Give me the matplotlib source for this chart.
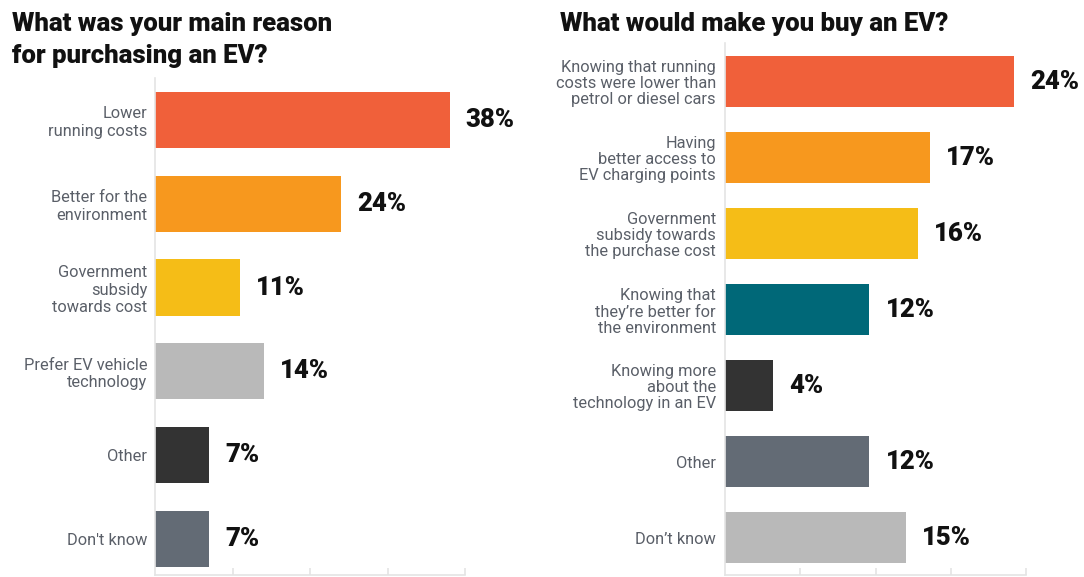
import matplotlib
matplotlib.use("Agg")
import matplotlib.pyplot as plt

# ---- Data ----
left_title = "What was your main reason\nfor purchasing an EV?"
left_cats = ["Lower\nrunning costs", "Better for the\nenvironment",
             "Government\nsubsidy\ntowards cost", "Prefer EV vehicle\ntechnology",
             "Other", "Don't know"]
left_vals = [38, 24, 11, 14, 7, 7]
left_colors = ["#F0603A", "#F7981E", "#F5BD17", "#B9B9B9", "#333333", "#636B75"]

right_title = "What would make you buy an EV?"
right_cats = ["Knowing that running\ncosts were lower than\npetrol or diesel cars",
              "Having\nbetter access to\nEV charging points",
              "Government\nsubsidy towards\nthe purchase cost",
              "Knowing that\nthey\u2019re better for\nthe environment",
              "Knowing more\nabout the\ntechnology in an EV",
              "Other", "Don\u2019t know"]
right_vals = [24, 17, 16, 12, 4, 12, 15]
right_colors = ["#F0603A", "#F7981E", "#F5BD17", "#006878", "#333333", "#636B75", "#B9B9B9"]

W, H = 1084, 577
fig = plt.figure(figsize=(W / 100, H / 100), dpi=100)

LABEL_FONT = "Roboto"
LABEL_COLOR = "#5A5F68"
AXIS_COLOR = "#E4E4E4"


def panel(rect, cats, vals, colors, xmax, xticks, ylim, linesp, pad):
    ax = fig.add_axes(rect)
    y = list(range(len(cats)))
    ax.barh(y, vals, height=0.67, color=colors)
    ax.set_xlim(0, xmax)
    ax.set_ylim(*ylim)
    for s in ["top", "right"]:
        ax.spines[s].set_visible(False)
    for s in ["left", "bottom"]:
        ax.spines[s].set_color(AXIS_COLOR)
        ax.spines[s].set_linewidth(1.2)
    ax.set_xticks(xticks)
    ax.set_xticklabels([])
    ax.tick_params(axis="x", direction="in", length=5, color=AXIS_COLOR, width=1.2)
    ax.set_yticks(y)
    ax.set_yticklabels(cats, fontsize=11.8, family=LABEL_FONT, color=LABEL_COLOR,
                       linespacing=linesp, ha="right", multialignment="right")
    ax.tick_params(axis="y", length=0, pad=pad)
    for yi, v in zip(y, vals):
        ax.annotate(f"{v}%", (v, yi), xytext=(11.5, 0), textcoords="offset points",
                    va="center", ha="left", fontsize=18.5, fontweight="heavy",
                    family=LABEL_FONT, color="#111111", annotation_clip=False)
    return ax


panel([155 / W, 2 / H, 310 / W, (575 - 78) / H], left_cats, left_vals, left_colors,
      40, [10, 20, 30, 40], (5.43, -0.5), 1.2, 5.5)
panel([725 / W, 2 / H, 301 / W, (575 - 43) / H], right_cats, right_vals, right_colors,
      25, [6.25, 12.5, 18.75, 25], (6.49, -0.507), 1.08, 6.5)

fig.text(12 / W, 1 - 31 / H, left_title.split("\n")[0], fontsize=18.5, fontweight="black",
         family=LABEL_FONT, color="#111111", va="baseline", ha="left")
fig.text(12 / W, 1 - 63 / H, left_title.split("\n")[1], fontsize=18.5, fontweight="black",
         family=LABEL_FONT, color="#111111", va="baseline", ha="left")
fig.text(560 / W, 1 - 31 / H, right_title, fontsize=18.5, fontweight="black", family=LABEL_FONT,
         color="#111111", va="baseline", ha="left")

fig.savefig("out.png", dpi=100, facecolor="white")
